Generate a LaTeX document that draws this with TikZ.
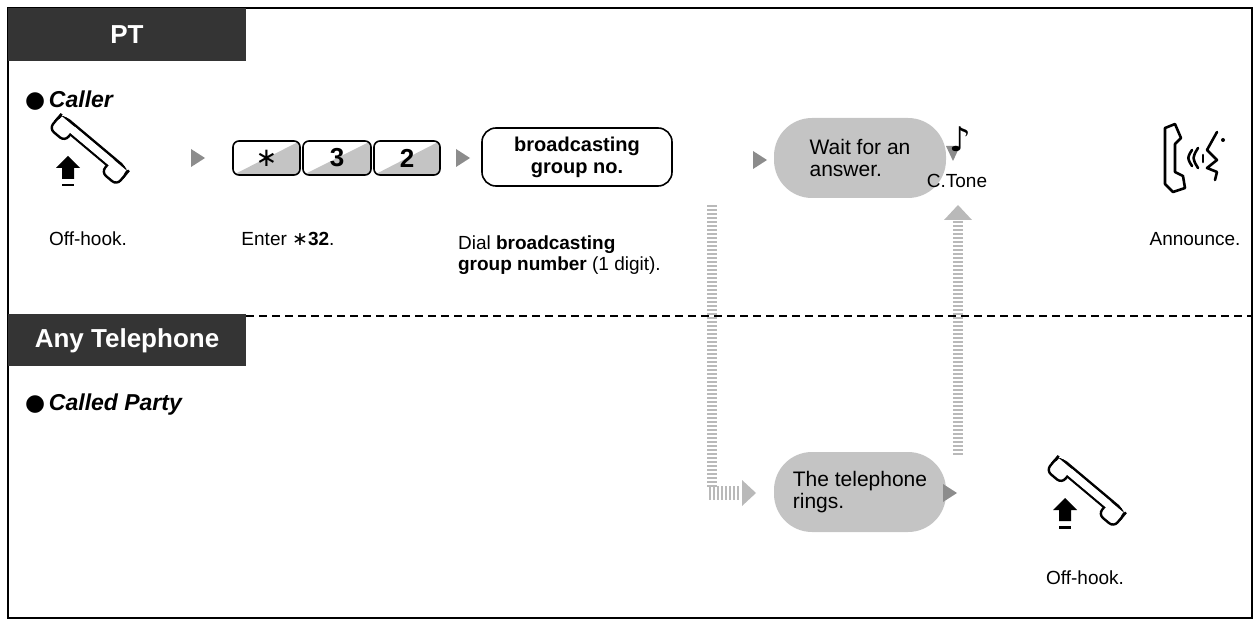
\documentclass[tikz,border=0pt]{standalone}
\usepackage{fontspec}
\setmainfont{Liberation Sans}
\newfontfamily\symfont{DejaVu Sans}
\usetikzlibrary{positioning}

\definecolor{tabgray}{RGB}{52,52,52}
\definecolor{ovalgray}{RGB}{196,196,196}
\definecolor{arrowgray}{RGB}{140,140,140}
\definecolor{stripegray}{RGB}{185,185,185}

\tikzset{
  tab/.style={fill=tabgray, text=white, font=\bfseries\fontsize{13}{15}\selectfont, inner sep=0pt},
  role/.style={anchor=west, font=\bfseries\itshape\fontsize{11.5}{13}\selectfont},
  steplabel/.style={font=\fontsize{9.5}{10.5}\selectfont, align=left},
  oval/.style={fill=ovalgray, rounded corners=19pt, minimum width=86pt, minimum height=40pt,
               font=\fontsize{10.5}{11}\selectfont, align=left, inner sep=0pt},
  nexttri/.style={fill=arrowgray, draw=none},
  keybox/.style={draw, line width=0.8pt, rounded corners=3pt},
}

% small gray step arrow
\newcommand{\steptri}[1]{\fill[nexttri] (#1) ++(-7,-9) -- ++(14,9) -- ++(-14,9) -- cycle;}
% key cap: x1,y1,x2,y2,label
\newcommand{\keycap}[5]{%
  \begin{scope}
    \clip[rounded corners=3pt] (#1,#2) rectangle (#3,#4);
    \fill[ovalgray] (#1,#4) -- (#3,#2) -- (#3,#4) -- cycle;
  \end{scope}
  \draw[keybox] (#1,#2) rectangle (#3,#4);
  \node[font=\bfseries\fontsize{13}{14}\selectfont] at ({(#1+#3)/2},{(#2+#4)/2}) {#5};}
% handset with off-hook arrow
\newcommand{\offhook}[1]{%
  \begin{scope}[shift={(#1)}]
    \begin{scope}[rotate=-40, line width=1.2pt, fill=white]
      \filldraw[rounded corners=5pt] (-44,-5) rectangle (44,5);
      \filldraw[rounded corners=3pt] (-44,-4) rectangle (-24,14);
      \filldraw[rounded corners=3pt] (24,-4) rectangle (44,14);
      \fill[white] (-42,-3.4) rectangle (42,4);
    \end{scope}
    \fill (-24,10) -- (-12,22) -- (-18,22) -- (-18,33) -- (-30,33) -- (-30,22) -- (-36,22) -- cycle;
    \fill (-30,38) rectangle (-18,40.5);
  \end{scope}}
% striped bar segment, vertical: x, first y, second y, last y
\newcommand{\vstripes}[4]{\foreach \yy in {#2,#3,...,#4} \draw[stripegray, line width=1.2pt] (#1-5,\yy) -- (#1+5,\yy);}

\begin{document}
\begin{tikzpicture}[x=0.5pt, y=-0.5pt]
\useasboundingbox (0,0) rectangle (1260,626);
\draw[line width=1pt] (8,8) rectangle (1252,618);

% tabs and divider
\fill[tabgray] (8,8) rectangle (246,61);
\node[tab] (pt) at (127,35) {PT};
\fill[tabgray] (8,314) rectangle (246,366);
\node[tab] (anytel) at (127,341) {Any Telephone};
\draw[line width=0.8pt, dash pattern=on 4pt off 2.5pt] (246,316) -- (1252,316);

\node[role] (caller) at (18,101) {{\symfont ●}\,Caller};
\node[role] (called) at (18,405) {{\symfont ●}\,Called Party};

% caller row
\offhook{92,146}
\coordinate (t1) at (198,158); \steptri{t1}
\keycap{233}{141}{300}{175}{{\symfont\mdseries ∗}}
\keycap{303}{141}{371}{175}{3}
\keycap{374}{141}{440}{175}{2}
\coordinate (t2) at (463,158); \steptri{t2}
\node[draw, line width=0.8pt, rounded corners=7pt, minimum width=95pt, minimum height=29pt,
      font=\bfseries\fontsize{10}{11}\selectfont, align=center, inner sep=0pt]
      (grpno) at (577,157) {broadcasting\\group no.};
\coordinate (t3) at (760,160); \steptri{t3}
\node[oval] (wait) at (860,158) {Wait for an\\answer.};
\fill[arrowgray] (946,146) -- (960,146) -- (953,161) -- cycle;
\node[font=\fontsize{17}{17}\selectfont\symfont] (note) at (960,139) {♪};
\node[steplabel] (ctone) at (957,181) {C.Tone};

% announce icon
\begin{scope}[shift={(1195,158)}, line width=1.3pt, line cap=round, line join=round]
  \draw (-30,-30) -- (-20,-34) -- (-14,-20) -- (-20,-14) -- (-20,14) -- (-12,18) -- (-10,30) -- (-22,34) -- (-30,26) -- cycle;
  \draw (-3,-8) .. controls (-8,0) .. (-3,8);
  \draw (3,-10) .. controls (-3,0) .. (3,10);
  \draw (8,-3) -- (8,4);
  \draw (22,-26) -- (12,-8) -- (22,2) -- (12,10) -- (22,14) -- (20,22);
  \fill (28,-18) circle (2);
\end{scope}

\node[steplabel] (l1) at (88,239) {Off-hook.};
\node[steplabel] (l2) at (288,239) {Enter {\symfont ∗}\textbf{32}.};
\node[steplabel, anchor=north west] (l3) at (451,229) {Dial \textbf{broadcasting}\\\textbf{group number} (1 digit).};
\node[steplabel] (l4) at (1195,239) {Announce.};

% notification path
\vstripes{712}{206}{210}{486}
\foreach \xx in {710,714,...,738} \draw[stripegray, line width=1.2pt] (\xx,486) -- (\xx,500);
\fill[stripegray] (742,480) -- (756,493) -- (742,506) -- cycle;
\vstripes{958}{222}{226}{454}
\fill[stripegray] (944,220) -- (958,205) -- (972,220) -- cycle;

% called party row
\node[oval] (rings) at (860,492) {The telephone\\rings.};
\coordinate (t4) at (950,493); \steptri{t4}
\offhook{1089,488}
\node[steplabel] (l5) at (1085,578) {Off-hook.};
\end{tikzpicture}
\end{document}
